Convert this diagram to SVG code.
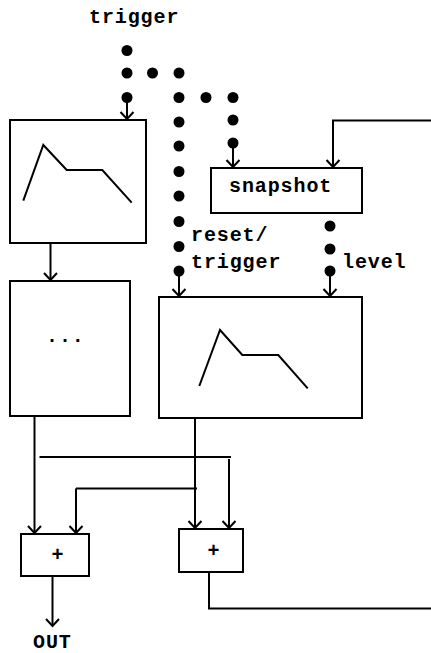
<svg xmlns="http://www.w3.org/2000/svg" width="431" height="653" viewBox="0 0 431 653">
<style>
.box{fill:#fff;stroke:#000;stroke-width:2}
.ln{fill:none;stroke:#000;stroke-width:2}
.arr{fill:none;stroke:#000;stroke-width:2;marker-end:url(#ah)}
.dot{fill:#000}
.t{font-family:"Liberation Mono","Courier New",monospace;font-weight:bold;font-size:20px;letter-spacing:0.9px;fill:#000}
.c{text-anchor:middle;letter-spacing:0}
</style>
<defs>
<marker id="ah" markerUnits="userSpaceOnUse" markerWidth="16" markerHeight="16" viewBox="-8 -8 16 16" refX="0" refY="0" orient="auto">
<path d="M-7,-6.5 L0,0 L-7,6.5" fill="none" stroke="#000" stroke-width="2"/>
</marker>
</defs>
<rect width="431" height="653" fill="#fff"/>

<g id="label-trigger"><text class="t" x="89" y="23">trigger</text></g>

<g id="env1">
<rect class="box" x="10" y="120" width="136" height="123"/>
<polyline class="ln" points="23.3,200.7 43.3,145 66.7,170 102.3,170 131.7,202.7"/>
</g>

<g id="ellipsis">
<rect class="box" x="10" y="281" width="120" height="135"/>
<text class="t" x="46" y="342">...</text>
</g>

<g id="snapshot">
<rect class="box" x="211" y="168" width="151" height="45"/>
<text class="t" x="229" y="192">snapshot</text>
</g>

<g id="env2">
<rect class="box" x="159" y="297" width="203" height="121"/>
<polyline class="ln" points="199.3,386 220,330 242.3,355 278.3,355 307.7,388.3"/>
</g>

<g id="plus1">
<rect class="box" x="21" y="534" width="68" height="42"/>
<text class="t c" x="57.5" y="561">+</text>
</g>

<g id="plus2">
<rect class="box" x="179" y="529" width="64" height="43"/>
<text class="t c" x="213.5" y="557">+</text>
</g>

<g id="labels">
<text class="t" x="191" y="241">reset/</text>
<text class="t" x="191" y="268">trigger</text>
<text class="t" x="342" y="268">level</text>
<text class="t" x="33" y="648">OUT</text>
</g>

<g id="connectors">
<g id="dots">
<circle class="dot" cx="127" cy="50.5" r="5.5"/>
<circle class="dot" cx="127" cy="73" r="5.5"/>
<circle class="dot" cx="152.5" cy="73" r="5.5"/>
<circle class="dot" cx="179" cy="73" r="5.5"/>
<circle class="dot" cx="127" cy="97.5" r="5.5"/>
<circle class="dot" cx="179" cy="97.5" r="5.5"/>
<circle class="dot" cx="206" cy="97.5" r="5.5"/>
<circle class="dot" cx="233" cy="97.5" r="5.5"/>
<circle class="dot" cx="233" cy="120" r="5.5"/>
<circle class="dot" cx="233" cy="143" r="5.5"/>
<circle class="dot" cx="179" cy="122" r="5.5"/>
<circle class="dot" cx="179" cy="146" r="5.5"/>
<circle class="dot" cx="179" cy="171.5" r="5.5"/>
<circle class="dot" cx="179" cy="196" r="5.5"/>
<circle class="dot" cx="179" cy="221.5" r="5.5"/>
<circle class="dot" cx="179" cy="246.5" r="5.5"/>
<circle class="dot" cx="179" cy="271" r="5.5"/>
<circle class="dot" cx="330" cy="226" r="5.5"/>
<circle class="dot" cx="330" cy="249" r="5.5"/>
<circle class="dot" cx="330" cy="271" r="5.5"/>
</g>
<path class="arr" d="M127,102 V119"/>
<path class="arr" d="M233,148 V167"/>
<path class="arr" d="M179,276 V296"/>
<path class="arr" d="M330,276 V296"/>
<path class="arr" d="M431,120.5 H333 V167"/>
<path class="arr" d="M50.5,243 V280"/>
<path class="arr" d="M34.5,416 V533"/>
<path class="arr" d="M195,418 V528"/>
<path class="ln" d="M39.5,457 H231"/>
<path class="arr" d="M229,459 V528"/>
<path class="ln" d="M76,488.5 H197"/>
<path class="arr" d="M76,488.5 V533"/>
<path class="arr" d="M52.5,576 V626"/>
<path class="ln" d="M209,573 V608.5 H431"/>
</g>
</svg>
